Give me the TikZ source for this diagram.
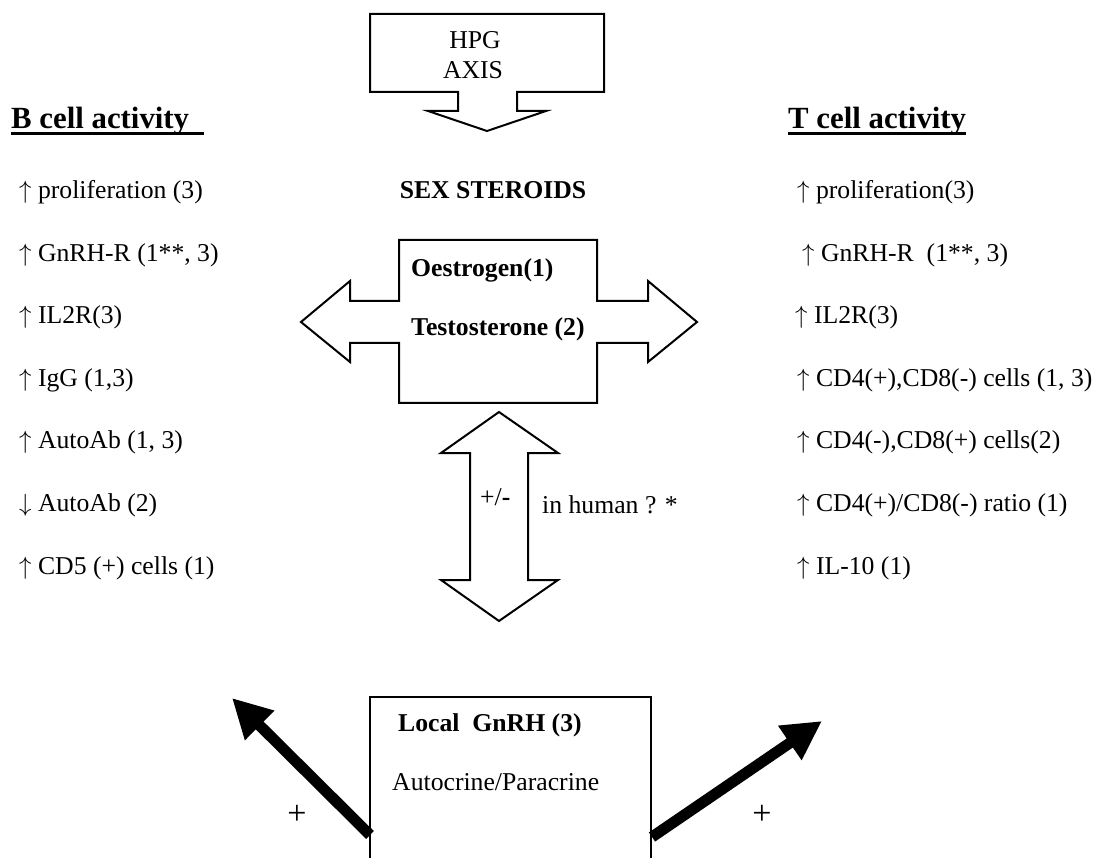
\documentclass[tikz,border=0pt]{standalone}
\usepackage{fontspec}
\setmainfont{Liberation Serif}
\usetikzlibrary{arrows.meta}
\begin{document}
\begin{tikzpicture}[x=1pt,y=-1pt,
  txt/.style={inner sep=0pt,anchor=base west,font=\fontsize{25.7}{30}\selectfont},
  bld/.style={txt,font=\fontsize{25.7}{30}\selectfont\bfseries},
  head/.style={txt,font=\fontsize{30.8}{36}\selectfont\bfseries},
  block/.style={draw,line width=2pt,line join=miter},
  fat/.style={line width=11pt,-{Triangle[length=39pt,width=39pt]}}]
 \useasboundingbox (0,0) rectangle (1095,858);
 % HPG axis
 \draw[block] (370,14) -- (604,14) -- (604,92) -- (517,92) -- (517,111) -- (546,111)
   -- (487,131) -- (428,111) -- (458,111) -- (458,92) -- (370,92) -- cycle;
 \node[txt,anchor=base] (hpg) at (475,48.5) {HPG};
 \node[txt,anchor=base] (axis) at (473,78.5) {AXIS};
 \node[bld,anchor=base] (sex) at (493,198.6) {SEX STEROIDS};
 % steroids cross
 \draw[block] (399,240) -- (597,240) -- (597,301) -- (648,301) -- (648,281) -- (697,322)
   -- (648,362) -- (648,343) -- (597,343) -- (597,403) -- (399,403) -- (399,343)
   -- (350,343) -- (350,362) -- (301,322) -- (350,281) -- (350,301) -- (399,301) -- cycle;
 \node[bld] (oes) at (411,276.5) {Oestrogen(1)};
 \node[bld] (tes) at (411,335.5) {Testosterone (2)};
 % up/down
 \draw[block] (499,412) -- (558,453) -- (528,453) -- (528,580) -- (558,580) -- (499,621)
   -- (441,580) -- (470,580) -- (470,453) -- (441,453) -- cycle;
 \node[txt] (pm) at (480,505.5) {+/\textbf{-}};
 \node[txt] (hum) at (542,513.5) {in human ? *};
 % B cells
 \node[head] (bhead) at (11,129) {B cell activity};
 \draw[line width=3pt] (bhead.base west) ++(0,5) -- ++(193,0);
 \foreach \i/\t in {0/{$\uparrow$\ proliferation (3)},
                    1/{$\uparrow$\ GnRH-R (1**, 3)},
                    2/{$\uparrow$\ IL2R(3)},
                    3/{$\uparrow$\ IgG (1,3)},
                    4/{$\uparrow$\ AutoAb (1, 3)},
                    5/{$\downarrow$\ AutoAb (2)},
                    6/{$\uparrow$\ CD5 (+) cells (1)}}
   \node[txt] (b\i) at (19,198.5+62.6*\i) {\t};
 % T cells
 \node[head] (thead) at (788,129) {T cell activity};
 \draw[line width=3pt] ([yshift=-5pt]thead.base west) -- ([yshift=-5pt]thead.base east);
 \foreach \i/\x/\t in {0/797/{$\uparrow$\ proliferation(3)},
                       1/802/{$\uparrow$\ GnRH-R\ \ (1**, 3)},
                       2/795/{$\uparrow$\ IL2R(3)},
                       3/797/{$\uparrow$\ CD4(+),CD8(-) cells (1, 3)},
                       4/797/{$\uparrow$\ CD4(-),CD8(+) cells(2)},
                       5/797/{$\uparrow$\ CD4(+)/CD8(-) ratio (1)},
                       6/797/{$\uparrow$\ IL-10 (1)}}
   \node[txt] (t\i) at (\x,198.5+62.6*\i) {\t};
 % local GnRH
 \draw[block] (370,858) -- (370,697) -- (651,697) -- (651,858);
 \node[bld] (loc) at (398,731.5) {Local\ \ GnRH (3)};
 \node[txt] (auto) at (392,790.5) {Autocrine/Paracrine};
 \coordinate (lbase) at (370,835);
 \coordinate (ltip) at (232,698);
 \coordinate (rbase) at (652,837);
 \coordinate (rtip) at (822,721);
 \draw[fat] (lbase) -- (ltip);
 \draw[fat] (rbase) -- (rtip);
 \node[txt,anchor=center,font=\fontsize{34}{40}\selectfont] (lplus) at (297,815) {+};
 \node[txt,anchor=center,font=\fontsize{34}{40}\selectfont] (rplus) at (762,815) {+};
\end{tikzpicture}
\end{document}
